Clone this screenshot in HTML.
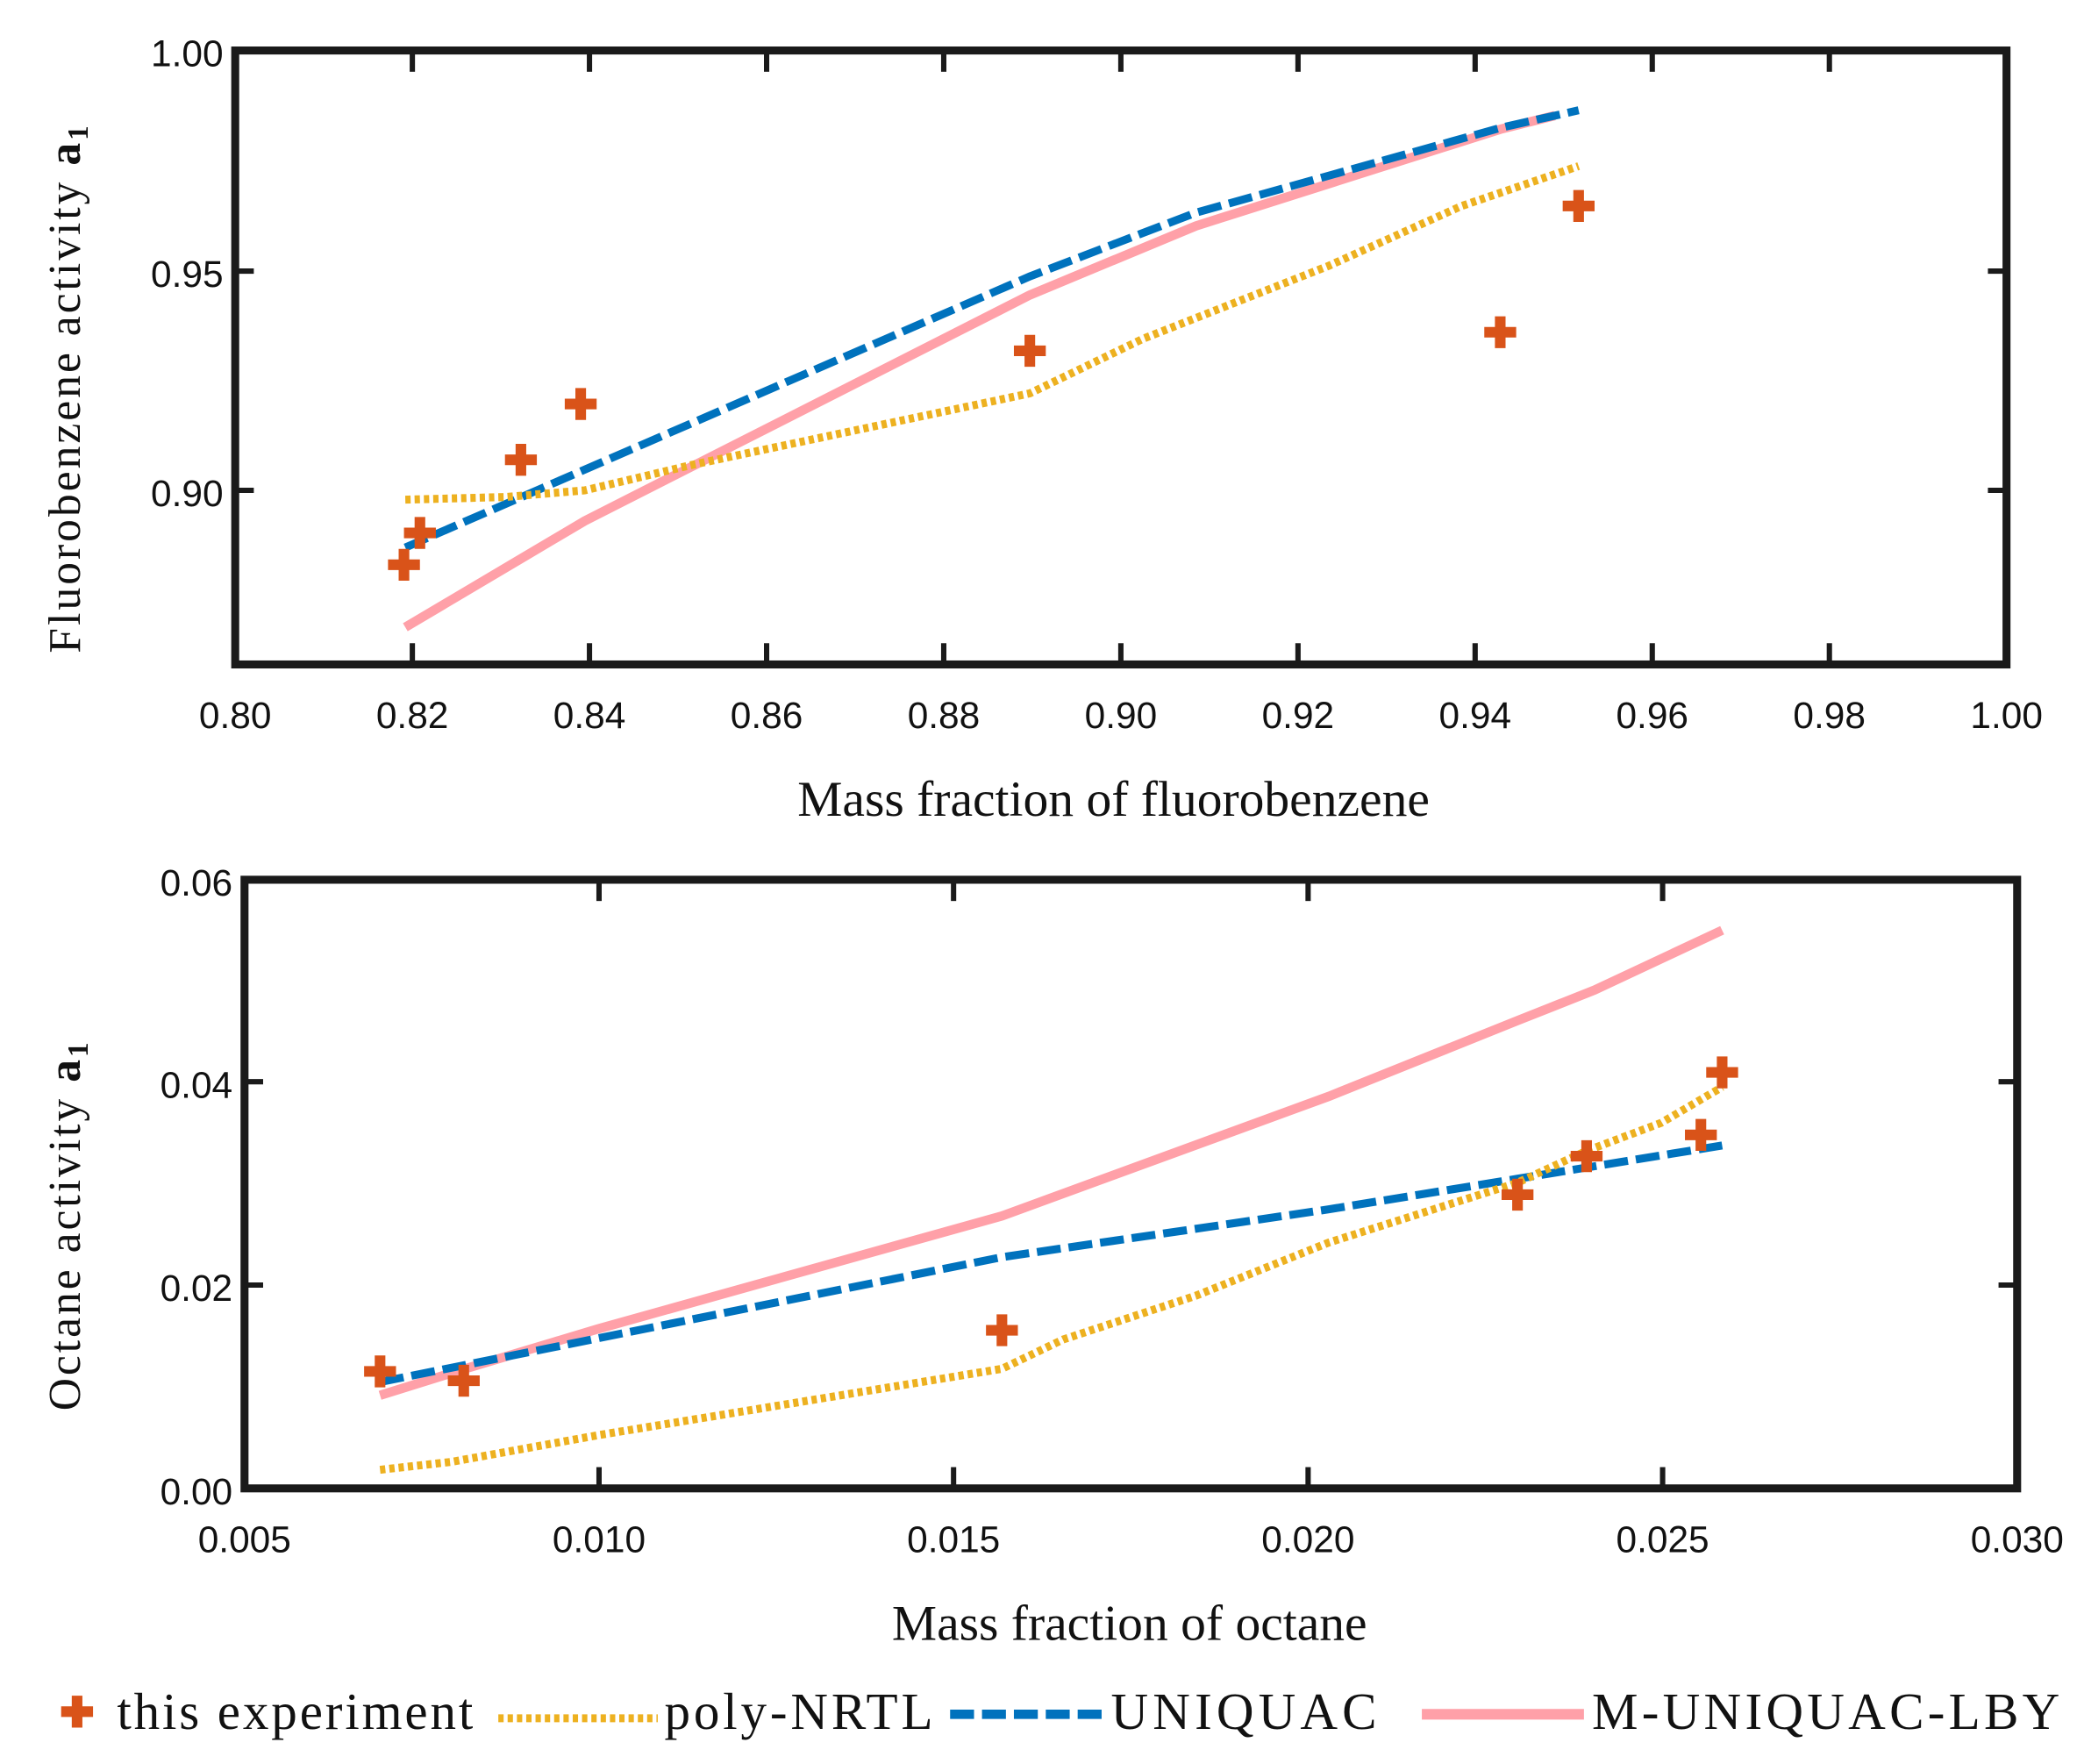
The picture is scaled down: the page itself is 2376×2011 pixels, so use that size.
<!DOCTYPE html>
<html><head><meta charset="utf-8"><style>html,body{margin:0;padding:0;background:#fff}svg{display:block}</style></head>
<body>
<svg width="2376" height="2011" viewBox="0 0 1568.3 1327.4" xmlns="http://www.w3.org/2000/svg">
<rect width="1568.3" height="1327.4" fill="#fff"/>
<g font-family="Liberation Sans, Arial, sans-serif" font-size="28" fill="#111">
<!-- TOP PLOT -->
<g stroke="#1a1a1a" stroke-width="4">
<line x1="310.3" y1="500" x2="310.3" y2="484"/><line x1="443.6" y1="500" x2="443.6" y2="484"/><line x1="576.9" y1="500" x2="576.9" y2="484"/><line x1="710.2" y1="500" x2="710.2" y2="484"/><line x1="843.5" y1="500" x2="843.5" y2="484"/><line x1="976.8" y1="500" x2="976.8" y2="484"/><line x1="1110.1" y1="500" x2="1110.1" y2="484"/><line x1="1243.4" y1="500" x2="1243.4" y2="484"/><line x1="1376.7" y1="500" x2="1376.7" y2="484"/>
<line x1="310.3" y1="38" x2="310.3" y2="54"/><line x1="443.6" y1="38" x2="443.6" y2="54"/><line x1="576.9" y1="38" x2="576.9" y2="54"/><line x1="710.2" y1="38" x2="710.2" y2="54"/><line x1="843.5" y1="38" x2="843.5" y2="54"/><line x1="976.8" y1="38" x2="976.8" y2="54"/><line x1="1110.1" y1="38" x2="1110.1" y2="54"/><line x1="1243.4" y1="38" x2="1243.4" y2="54"/><line x1="1376.7" y1="38" x2="1376.7" y2="54"/>
<line x1="177" y1="204" x2="191" y2="204"/><line x1="177" y1="369" x2="191" y2="369"/><line x1="1510" y1="204" x2="1496" y2="204"/><line x1="1510" y1="369" x2="1496" y2="369"/>
</g>
<polyline fill="none" stroke="#FFA0A8" stroke-width="7" points="305,472 440,392 775,222 900,170 1130,97 1170,87"/>
<polyline fill="none" stroke="#0072BD" stroke-width="6" stroke-dasharray="18,6" points="305,412 775,208 900,160 1130,96 1188,83"/>
<polyline fill="none" stroke="#EDB120" stroke-width="6" stroke-dasharray="4,3" points="305,376 380,374 440,369 520,350 775,296 860,255 1000,200 1100,155 1188,125"/>
<g stroke="#D95319" stroke-width="8">
<path d="M304,413v24M292,425h24M316,389v24M304,401h24M392,334v24M380,346h24M437,292v24M425,304h24M775,252v24M763,264h24M1129,238v24M1117,250h24M1188,143v24M1176,155h24"/>
</g>
<rect x="177" y="38" width="1333" height="462" fill="none" stroke="#1a1a1a" stroke-width="6"/>
<g text-anchor="end"><text x="168" y="50">1.00</text><text x="168" y="216">0.95</text><text x="168" y="381">0.90</text></g>
<g text-anchor="middle"><text x="177" y="548">0.80</text><text x="310.3" y="548">0.82</text><text x="443.6" y="548">0.84</text><text x="576.9" y="548">0.86</text><text x="710.2" y="548">0.88</text><text x="843.5" y="548">0.90</text><text x="976.8" y="548">0.92</text><text x="1110.1" y="548">0.94</text><text x="1243.4" y="548">0.96</text><text x="1376.7" y="548">0.98</text><text x="1510" y="548">1.00</text></g>
<text x="838" y="614" text-anchor="middle" font-family="Liberation Serif, serif" font-size="38">Mass fraction of fluorobenzene</text>
<text transform="translate(60,292) rotate(-90)" text-anchor="middle" font-family="Liberation Serif, serif" font-size="34" letter-spacing="2">Fluorobenzene activity  <tspan font-weight="bold">a<tspan font-size="22" dy="6">1</tspan></tspan></text>

<!-- BOTTOM PLOT -->
<g stroke="#1a1a1a" stroke-width="4">
<line x1="450.8" y1="1120" x2="450.8" y2="1104"/><line x1="717.6" y1="1120" x2="717.6" y2="1104"/><line x1="984.4" y1="1120" x2="984.4" y2="1104"/><line x1="1251.2" y1="1120" x2="1251.2" y2="1104"/>
<line x1="450.8" y1="662" x2="450.8" y2="678"/><line x1="717.6" y1="662" x2="717.6" y2="678"/><line x1="984.4" y1="662" x2="984.4" y2="678"/><line x1="1251.2" y1="662" x2="1251.2" y2="678"/>
<line x1="184" y1="814" x2="198" y2="814"/><line x1="184" y1="967" x2="198" y2="967"/><line x1="1518" y1="814" x2="1504" y2="814"/><line x1="1518" y1="967" x2="1504" y2="967"/>
</g>
<polyline fill="none" stroke="#FFA0A8" stroke-width="7" points="286,1050 350,1030 450,1000 754,915 1000,825 1142,768 1200,745 1296,700"/>
<polyline fill="none" stroke="#0072BD" stroke-width="6" stroke-dasharray="18,6" points="286,1040 754,946 1000,910 1142,887 1296,862"/>
<polyline fill="none" stroke="#EDB120" stroke-width="6" stroke-dasharray="4,3" points="286,1106 340,1100 450,1080 754,1030 800,1008 900,975 1000,935 1142,890 1194,866 1250,845 1296,818"/>
<g stroke="#D95319" stroke-width="8">
<path d="M286,1020v24M274,1032h24M349,1027v24M337,1039h24M754,989v24M742,1001h24M1142,887v24M1130,899h24M1194,858v24M1182,870h24M1280,842v24M1268,854h24M1296,795v24M1284,807h24"/>
</g>
<rect x="184" y="662" width="1334" height="458" fill="none" stroke="#1a1a1a" stroke-width="6"/>
<g text-anchor="end"><text x="175" y="674">0.06</text><text x="175" y="826">0.04</text><text x="175" y="979">0.02</text><text x="175" y="1132">0.00</text></g>
<g text-anchor="middle"><text x="184" y="1168">0.005</text><text x="450.8" y="1168">0.010</text><text x="717.6" y="1168">0.015</text><text x="984.4" y="1168">0.020</text><text x="1251.2" y="1168">0.025</text><text x="1518" y="1168">0.030</text></g>
<text x="850" y="1234" text-anchor="middle" font-family="Liberation Serif, serif" font-size="38">Mass fraction of octane</text>
<text transform="translate(60,922) rotate(-90)" text-anchor="middle" font-family="Liberation Serif, serif" font-size="34" letter-spacing="2">Octane activity  <tspan font-weight="bold">a<tspan font-size="22" dy="6">1</tspan></tspan></text>

<!-- LEGEND -->
<path d="M58,1276v24M46,1288h24" stroke="#D95319" stroke-width="8"/>
<line x1="375" y1="1293" x2="495" y2="1293" stroke="#EDB120" stroke-width="6" stroke-dasharray="4,3"/>
<line x1="715" y1="1290" x2="830" y2="1290" stroke="#0072BD" stroke-width="7" stroke-dasharray="18,6"/>
<line x1="1070" y1="1290" x2="1192" y2="1290" stroke="#FFA0A8" stroke-width="8"/>
<g font-family="Liberation Serif, serif" font-size="39"><text x="88" y="1301" textLength="268">this experiment</text><text x="500" y="1301" textLength="202">poly-NRTL</text><text x="836" y="1301" textLength="200">UNIQUAC</text><text x="1198" y="1301" textLength="352">M-UNIQUAC-LBY</text></g>
</g>
</svg>
</body></html>
